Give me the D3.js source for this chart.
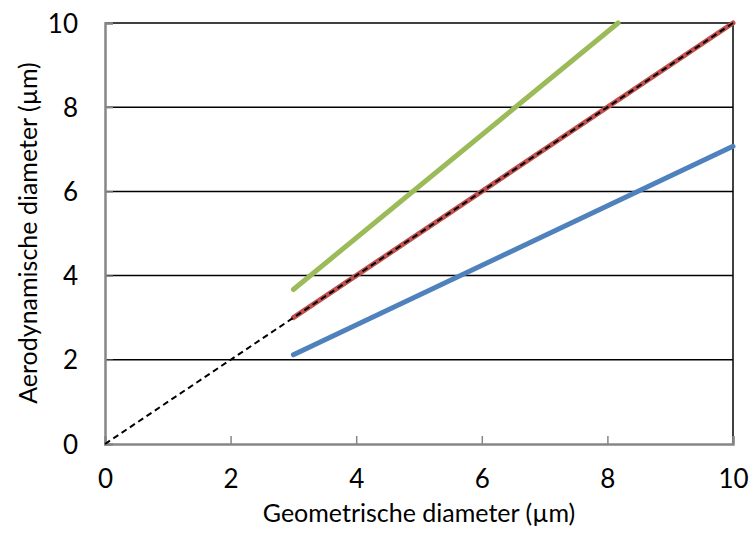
<!DOCTYPE html>
<html><head><meta charset="utf-8">
<script src="https://cdn.jsdelivr.net/npm/d3@7"></script>
<style>body{margin:0;background:#fff}svg{display:block}text{font-family:Lato,"Open Sans",sans-serif;fill:#000}</style>
</head><body><svg id="c" width="750" height="533"></svg>
<script>
const xTicks=[0,2,4,6,8,10];
const yTicks=[0,2,4,6,8,10];
const greenPts=[[3,3.67],[8.17,10]];
const redPts=[[3,3],[10,10]];
const bluePts=[[3,2.12],[10,7.07]];
const refPts=[[0,0],[10,10]];
const xTitle="Geometrische diameter (\u00b5m)";
const yTitle="Aerodynamische diameter (\u00b5m)";

const svg=d3.select("#c");
const L=105,R=733,T=23,B=444;
const x=d3.scaleLinear().domain([0,10]).range([L,R]);
const y=d3.scaleLinear().domain([0,10]).range([B,T]);

svg.append("g").selectAll("line").data(yTicks.filter(d=>d>0)).join("line")
 .attr("x1",L).attr("x2",R).attr("y1",d=>y(d)).attr("y2",d=>y(d))
 .attr("stroke","#000").attr("stroke-width",1.5);
svg.append("line").attr("x1",R).attr("x2",R).attr("y1",T).attr("y2",B).attr("stroke","#000").attr("stroke-width",1.5);

const gx=svg.append("g").attr("transform",`translate(0,${B})`)
 .call(d3.axisBottom(x).tickValues(xTicks).tickSize(-8).tickPadding(26).tickFormat(d3.format("d")));
const gy=svg.append("g").attr("transform",`translate(${L},0)`)
 .call(d3.axisLeft(y).tickValues(yTicks).tickSize(-8).tickPadding(27).tickFormat(d3.format("d")));
[gx,gy].forEach(g=>{
 g.select(".domain").attr("stroke","#868686").attr("stroke-width",2.5);
 g.selectAll(".tick line").attr("stroke","#868686").attr("stroke-width",1.5);
 g.selectAll(".tick text").style("font-size","26px").attr("fill","#000");
});
gx.selectAll(".tick text").attr("dy","0.71em");
gy.selectAll(".tick text").attr("dy","0.35em");

const line=d3.line().x(d=>x(d[0])).y(d=>y(d[1]));
const addLine=(pts,color,w,dash)=>svg.append("path").datum(pts).attr("d",line)
 .attr("fill","none").attr("stroke",color).attr("stroke-width",w)
 .attr("stroke-linecap",dash?"butt":"round").attr("stroke-dasharray",dash||null);
addLine(greenPts,"#9BBB59",5);
addLine(redPts,"#C0504D",5);
addLine(bluePts,"#4F81BD",5);
addLine(refPts,"#000",2,"6,4");

svg.append("text").attr("x",(L+R)/2).attr("y",522).attr("text-anchor","middle")
 .style("font-size","25px").text(xTitle);
svg.append("text").attr("transform",`translate(37,233) rotate(-90)`).attr("text-anchor","middle")
 .style("font-size","25px").text(yTitle);
</script></body></html>
